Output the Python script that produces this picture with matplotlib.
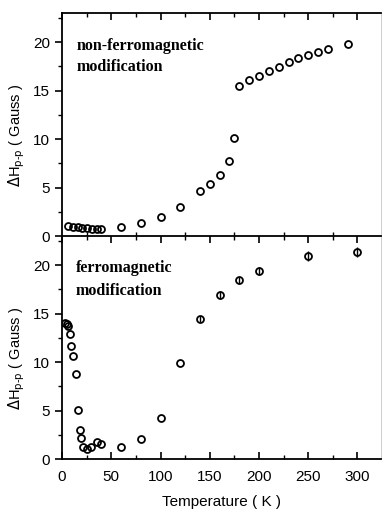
import numpy as np
import matplotlib.pyplot as plt
from matplotlib.ticker import MultipleLocator

# non-ferromagnetic modification (top panel)
t_top = [6, 11, 16, 20, 25, 30, 35, 40, 60, 80, 100, 120, 140, 150, 160, 170, 175,
         180, 190, 200, 210, 220, 230, 240, 250, 260, 270, 290]
h_top = [1.05, 0.98, 0.92, 0.85, 0.78, 0.75, 0.75, 0.75, 0.9, 1.3, 1.96, 2.95, 4.64,
         5.4, 6.3, 7.77, 10.1, 15.5, 16.05, 16.46, 17.0, 17.46, 17.9, 18.35, 18.7,
         19.0, 19.3, 19.8]

# ferromagnetic modification (bottom panel)
t_bot = [3, 5, 6, 8, 9.5, 11.5, 14, 16, 18, 19, 21, 25, 29, 35, 40, 60, 80, 100,
         120, 140, 160, 180, 200, 250, 300]
h_bot = [14.0, 13.9, 13.7, 12.85, 11.7, 10.65, 8.76, 5.05, 2.99, 2.16, 1.27, 1.07,
         1.2, 1.72, 1.55, 1.27, 2.03, 4.19, 9.93, 14.43, 16.94, 18.42, 19.38, 20.93,
         21.37]
err_bot = [0, 0, 0, 0, 0, 0, 0, 0, 0, 0, 0, 0, 0, 0, 0, 0, 0, 0,
           0, 0.3, 0.4, 0.4, 0.45, 0.5, 0.55]

plt.rcParams['font.family'] = ['Liberation Sans', 'DejaVu Sans']

fig = plt.figure(figsize=(3.83, 5.12), dpi=100)
ax1 = fig.add_axes([0.162, 0.539, 0.833, 0.4355])
ax2 = fig.add_axes([0.162, 0.1035, 0.833, 0.4355])

mk = dict(marker='o', mfc='none', mec='black', ms=5, mew=1.3, ls='none')

ax1.plot(t_top, h_top, **mk)
ax2.errorbar(t_bot, h_bot, yerr=err_bot, ecolor='black', elinewidth=1.0,
             capsize=0, **mk)

for ax in (ax1, ax2):
    ax.set_xlim(0, 324)
    ax.set_ylim(0, 23)
    ax.xaxis.set_major_locator(MultipleLocator(50))
    ax.xaxis.set_minor_locator(MultipleLocator(25))
    ax.yaxis.set_major_locator(MultipleLocator(5))
    ax.yaxis.set_minor_locator(MultipleLocator(2.5))
    ax.tick_params(axis='x', which='both', direction='in', top=True)
    ax.tick_params(axis='x', which='major', length=5, width=1.2, pad=8)
    ax.tick_params(axis='x', which='minor', length=3, width=1)
    ax.tick_params(axis='y', which='major', direction='out', length=5, width=1.2,
                   labelsize=11)
    ax.tick_params(axis='y', which='minor', direction='out', length=3, width=1)
    ax.tick_params(axis='x', labelsize=11)
    for s in ax.spines.values():
        s.set_linewidth(1.3)
    ax.spines['right'].set_linewidth(0.5)
    ax.spines['right'].set_color('#bbbbbb')
    ax.set_ylabel(r'$\Delta$H$_{\mathrm{p\text{-}p}}$ ( Gauss )', fontsize=10.5)
    ax.yaxis.set_label_coords(-0.11, 0.45)

ax1.tick_params(axis='x', labelbottom=False, bottom=False)
ax1.spines['bottom'].set_visible(False)
ax2.set_xlabel('Temperature ( K )', fontsize=11, labelpad=8)

ax1.text(15, 19.6, 'non-ferromagnetic', family='Liberation Serif',
         fontweight='bold', fontsize=11.5, va='center')
ax1.text(15, 17.4, 'modification', family='Liberation Serif',
         fontweight='bold', fontsize=11.5, va='center')
ax2.text(14, 19.7, 'ferromagnetic', family='Liberation Serif',
         fontweight='bold', fontsize=11.5, va='center')
ax2.text(14, 17.3, 'modification', family='Liberation Serif',
         fontweight='bold', fontsize=11.5, va='center')

plt.savefig('out.png', dpi=100)
